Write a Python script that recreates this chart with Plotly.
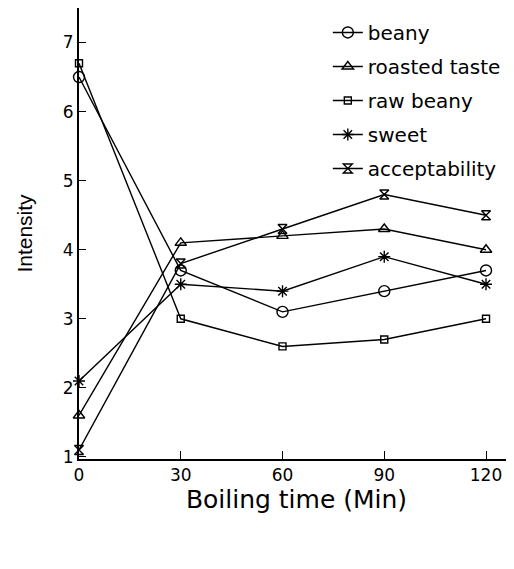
import plotly.graph_objects as go

boiling_time = [0, 30, 60, 90, 120]
beany = [6.5, 3.7, 3.1, 3.4, 3.7]
roasted_taste = [1.6, 4.1, 4.2, 4.3, 4.0]
raw_beany = [6.7, 3.0, 2.6, 2.7, 3.0]
sweet = [2.1, 3.5, 3.4, 3.9, 3.5]
acceptability = [1.1, 3.8, 4.3, 4.8, 4.5]

x_ticks = [0, 30, 60, 90, 120]
y_ticks = [1, 2, 3, 4, 5, 6, 7]

series = [
    ("beany", beany, "circle-open", 11),
    ("roasted taste", roasted_taste, "triangle-up-open", 10),
    ("raw beany", raw_beany, "square-open", 7),
    ("sweet", sweet, "asterisk-open", 10),
    ("acceptability", acceptability, "hourglass-open", 9),
]

fig = go.Figure()
for name, vals, sym, sz in series:
    fig.add_trace(go.Scatter(
        x=boiling_time, y=vals, name=name, mode="lines+markers",
        legendgroup=name,
        line=dict(color="black", width=1.4),
        marker=dict(symbol=sym, size=sz, color="black",
                    line=dict(color="black", width=1.4)),
        cliponaxis=False,
    ))

font_family = "DejaVu Sans, sans-serif"
fig.update_layout(
    width=506, height=561,
    margin=dict(l=71, r=0, t=0, b=110, autoexpand=False),
    paper_bgcolor="white", plot_bgcolor="white",
    font=dict(family=font_family, color="black", size=19),
    showlegend=True,
    legend=dict(x=0.572, y=0.989, xanchor="left", yanchor="top",
                bgcolor="rgba(0,0,0,0)", font=dict(size=20, family=font_family),
                tracegroupgap=5),
    xaxis=dict(
        range=[0, 128.25], tickvals=x_ticks, ticks="inside", ticklen=8,
        tickwidth=1, tickcolor="black", showline=True, linecolor="black",
        linewidth=2, mirror=True, showgrid=False, zeroline=False,
        automargin=False,
        tickfont=dict(size=17, family=font_family),
        title=dict(text="Boiling time (Min)", font=dict(size=25, family=font_family),
                   standoff=5),
    ),
    yaxis=dict(
        range=[0.97, 7.5], tickvals=y_ticks, ticks="inside", ticklen=7,
        tickwidth=1, tickcolor="black", showline=True, linecolor="black",
        linewidth=2, mirror=False, showgrid=False, zeroline=False,
        automargin=False,
        tickfont=dict(size=17, family=font_family),
        title=dict(text="Intensity",
                   font=dict(size=21, family="Liberation Sans, Arial, sans-serif"),
                   standoff=24),
    ),
)

fig.write_html("out.html")
